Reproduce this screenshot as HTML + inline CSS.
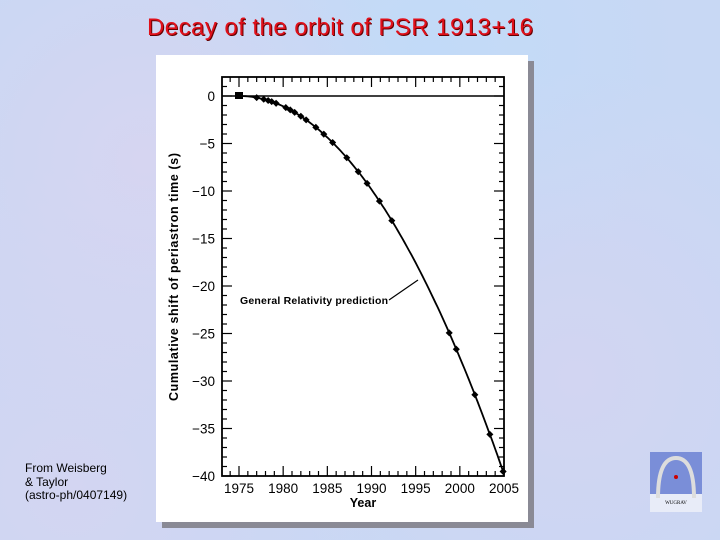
<!DOCTYPE html>
<html><head><meta charset="utf-8"><style>
html,body{margin:0;padding:0}
body{width:720px;height:540px;overflow:hidden;position:relative;background:#c8d8f4;
background-image:radial-gradient(circle at 20% 30%,rgba(228,210,238,.5),transparent 40%),radial-gradient(circle at 80% 70%,rgba(225,208,238,.4),transparent 45%),radial-gradient(circle at 60% 10%,rgba(190,220,250,.6),transparent 40%),radial-gradient(circle at 10% 90%,rgba(222,210,240,.5),transparent 40%);}
.title{position:absolute;left:147px;top:14px;font-family:"Comic Sans MS","Liberation Sans",sans-serif;font-size:24px;color:#e0101a;text-shadow:1px 1px 0 #600;letter-spacing:0.45px;white-space:nowrap}
.foot{position:absolute;left:25px;top:462px;font-family:"Liberation Sans",sans-serif;font-size:12px;line-height:13.5px;color:#000}
</style></head><body>
<div class="title">Decay of the orbit of PSR 1913+16</div>
<div class="foot">From Weisberg<br>&amp; Taylor<br>(astro-ph/0407149)</div>
<svg width="720" height="540" style="position:absolute;left:0;top:0">
<rect x="162" y="61" width="372" height="467" fill="#8a8a95"/>
<rect x="156" y="55" width="372" height="467" fill="#fff"/>
<g id="g" font-family="Liberation Sans,sans-serif" fill="#000"></g>
<g transform="translate(650,452)">
<rect width="52" height="60" fill="#7a8ed8"/>
<rect y="42" width="52" height="18" fill="#e8ecf8"/>
<path d="M8,46 Q8,6 26,6 Q44,6 44,46" fill="none" stroke="#ddd" stroke-width="4"/>
<circle cx="26" cy="25" r="2" fill="#c00"/>
<text x="26" y="52" font-size="5" text-anchor="middle" font-family="Liberation Serif,serif">WUGRAV</text>
</g>
</svg>
<script>
const g=document.getElementById('g');let s='';
const X=t=>239+(t-1975)*265/30, Y=v=>96-v*9.5;
const L=222,R=504,T=77,B=476;
s+=`<rect x="${L}" y="${T}" width="${R-L}" height="${B-T}" fill="none" stroke="#000" stroke-width="1.8"/>`;
s+=`<line x1="${L}" y1="96" x2="${R}" y2="96" stroke="#000" stroke-width="1.4"/>`;
for(let t=1974;t<=2005;t++){const x=X(t),m=t%5==0?10:5;
s+=`<line x1="${x}" y1="${B}" x2="${x}" y2="${B-m}" stroke="#000" stroke-width="1.2"/><line x1="${x}" y1="${T}" x2="${x}" y2="${T+m}" stroke="#000" stroke-width="1.2"/>`;
if(t%5==0)s+=`<text x="${x}" y="${B+17}" font-size="13.5" text-anchor="middle">${t}</text>`;}
for(let v=1;v>=-40;v--){const y=Y(v),m=v%5==0?10:5;
s+=`<line x1="${L}" y1="${y}" x2="${L+m}" y2="${y}" stroke="#000" stroke-width="1.2"/><line x1="${R}" y1="${y}" x2="${R-m}" y2="${y}" stroke="#000" stroke-width="1.2"/>`;
if(v%5==0)s+=`<text x="${L-7}" y="${y+5}" font-size="13.5" text-anchor="end">${v==0?'0':'\u2212'+(-v)}</text>`;}
s+=`<text x="363" y="507" font-size="12.5" font-weight="bold" text-anchor="middle">Year</text>`;
s+=`<text transform="translate(178,277) rotate(-90)" font-size="12.5" font-weight="bold" text-anchor="middle" textLength="248">Cumulative shift of periastron time (s)</text>`;
const f=t=>-0.0433*Math.pow(t-1975,2)*(1+0.0007*(t-1975));
let d='';for(let t=1975;t<=2005.01;t+=0.25){d+=(d?'L':'M')+X(t).toFixed(1)+','+Y(f(t)).toFixed(1);}
s+=`<path d="${d}" fill="none" stroke="#000" stroke-width="1.8"/>`;
[1977,1977.8,1978.3,1978.7,1979.2,1980.3,1980.8,1981.3,1982,1982.6,1983.7,1984.6,1985.6,1987.2,1988.5,1989.5,1990.9,1992.3,1998.8,1999.6,2001.7,2003.4,2004.9].forEach(t=>{
const x=X(t),y=Y(f(t));s+=`<rect x="${x-2.5}" y="${y-2.5}" width="5" height="5" transform="rotate(45 ${x} ${y})"/>`;});
s+=`<rect x="${X(1975)-4}" y="92" width="8" height="7"/>`;
s+=`<text x="240" y="304" font-size="10.5" font-weight="bold" textLength="148">General Relativity prediction</text>`;
s+=`<line x1="389" y1="300" x2="418" y2="280" stroke="#000" stroke-width="1.2"/>`;
g.innerHTML=s;
</script>
</body></html>
